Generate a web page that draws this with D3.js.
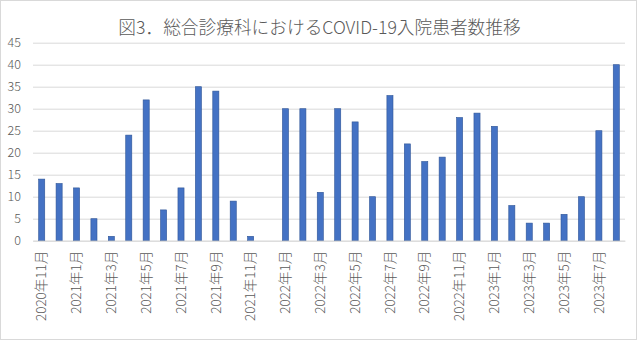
<!DOCTYPE html>
<html><head><meta charset="utf-8">
<script src="https://cdn.jsdelivr.net/npm/d3@7"></script>
<style>body{margin:0;background:#fff;}svg{display:block;}</style>
</head><body>
<svg id="c" width="637" height="340"></svg>
<script>
const title = "図3．総合診療科におけるCOVID-19入院患者数推移";
const months = ["2020年11月","2020年12月","2021年1月","2021年2月","2021年3月","2021年4月","2021年5月","2021年6月","2021年7月","2021年8月","2021年9月","2021年10月","2021年11月","2021年12月","2022年1月","2022年2月","2022年3月","2022年4月","2022年5月","2022年6月","2022年7月","2022年8月","2022年9月","2022年10月","2022年11月","2022年12月","2023年1月","2023年2月","2023年3月","2023年4月","2023年5月","2023年6月","2023年7月","2023年8月"];
const patients = [14,13,12,5,1,24,32,7,12,35,34,9,1,0,30,30,11,30,27,10,33,22,18,19,28,29,26,8,4,4,6,10,25,40];
const yTicks = [0,5,10,15,20,25,30,35,40,45];

const svg = d3.select("#c");
const W = 637, H = 340;
const m = {left:33, right:12, top:42.7, bottom:99.3};
const font = "'Noto Sans CJK JP','Noto Sans',sans-serif";

svg.append("rect").attr("x",0.5).attr("y",0.5).attr("width",W-1).attr("height",H-1)
  .attr("fill","#fff").attr("stroke","#d9d9d9");

const x = d3.scaleBand().domain(months).range([m.left, W-m.right]).paddingInner(0.65).paddingOuter(0.325);
const y = d3.scaleLinear().domain([0,45]).range([H-m.bottom, m.top]);

svg.append("text").attr("x",319.5).attr("y",34).attr("text-anchor","middle")
  .attr("font-family",font).attr("font-weight",300).attr("font-size",17.7).attr("fill","#595959").text(title);

const yAxis = svg.append("g").attr("transform",`translate(${m.left},0)`)
  .call(d3.axisLeft(y).tickValues(yTicks).tickSize(-(W-m.left-m.right)).tickPadding(12));
yAxis.select(".domain").remove();
yAxis.selectAll(".tick line").attr("stroke","#d9d9d9");
yAxis.selectAll(".tick text").attr("font-family",font).attr("font-weight",300).attr("font-size",12.5).attr("fill","#595959");

svg.append("g").selectAll("rect").data(patients).join("rect")
  .attr("x",(d,i)=>x(months[i])).attr("width",x.bandwidth())
  .attr("y",d=>y(d)).attr("height",d=>y(0)-y(d))
  .attr("fill","#4472c4").attr("stroke","#2f5597").attr("stroke-width",0.6);

const xAxis = svg.append("g").attr("transform",`translate(0,${y(0)})`)
  .call(d3.axisBottom(x).tickValues(months.filter((d,i)=>i%2===0)).tickSize(0).tickPadding(0));
xAxis.select(".domain").attr("stroke","#d9d9d9");
xAxis.selectAll(".tick text")
  .attr("font-family",font).attr("font-weight",300).attr("font-size",13.5).attr("fill","#595959")
  .attr("text-anchor","end").attr("transform","rotate(-90)")
  .attr("x",-10).attr("y",0).attr("dy","0.35em");
</script>
</body></html>
